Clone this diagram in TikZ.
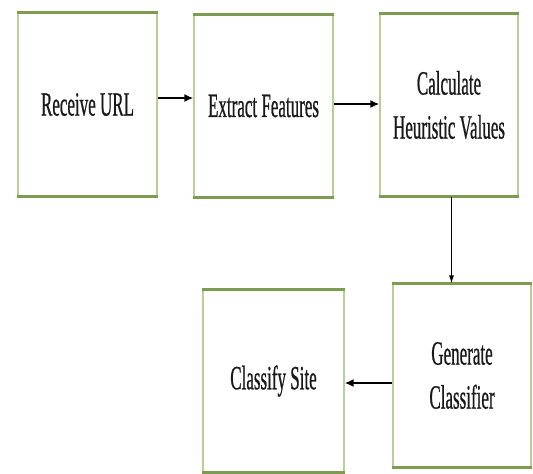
\documentclass[tikz,border=0pt]{standalone}
\usepackage{fontspec}
\setmainfont{Liberation Serif}
\newfontfamily\condfont[FakeStretch=0.5,FakeBold=0.6]{Liberation Serif}
\usetikzlibrary{arrows.meta}
\definecolor{sidegreen}{HTML}{B9CF98}
\definecolor{edgegreen}{HTML}{7E9C50}
\tikzset{
  stepbox/.style={draw=sidegreen, line width=1.2pt, fill=white, inner sep=0pt,
    align=center, text=black!90, font=\condfont\fontsize{34}{44}\selectfont},
  thickarr/.style={line width=1.8pt, -{Latex[length=9pt,width=8pt]}},
  thinarr/.style={line width=0.9pt, -{Latex[length=8pt,width=5pt]}},
  edge/.style={draw=edgegreen, line width=2.4pt}
}
\begin{document}
\begin{tikzpicture}[x=1pt,y=-1pt]
\useasboundingbox (0,0) rectangle (533,474);
\node[stepbox, minimum width=139pt, minimum height=183pt] (b1) at (87.5,104.5) {Receive URL};
\node[stepbox, minimum width=139pt, minimum height=182pt] (b2) at (263.5,106) {Extract Features};
\node[stepbox, minimum width=138pt, minimum height=182pt] (b3) at (449,105) {Calculate\\Heuristic Values};
\node[stepbox, minimum width=138pt, minimum height=183pt] (b4) at (462,375.5) {Generate\\Classifier};
\node[stepbox, minimum width=141pt, minimum height=182pt] (b5) at (273.5,381) {Classify Site};
\foreach \n in {b1,b2,b3,b4,b5}{
  \draw[edge] (\n.north west) -- (\n.north east);
  \draw[edge] (\n.south west) -- (\n.south east);
}
\draw[thickarr] ([yshift=6.5pt]b1.east) -- ([yshift=6.5pt]b1.east -| b2.west);
\draw[thickarr] ([yshift=2pt]b2.east) -- ([yshift=2pt]b2.east -| b3.west);
\draw[thinarr] ([xshift=2.5pt]b3.south) -- ([xshift=2.5pt]b3.south |- b4.north);
\draw[thickarr] ([yshift=-7.5pt]b4.west) -- ([yshift=-7.5pt]b4.west -| b5.east);
\end{tikzpicture}
\end{document}
